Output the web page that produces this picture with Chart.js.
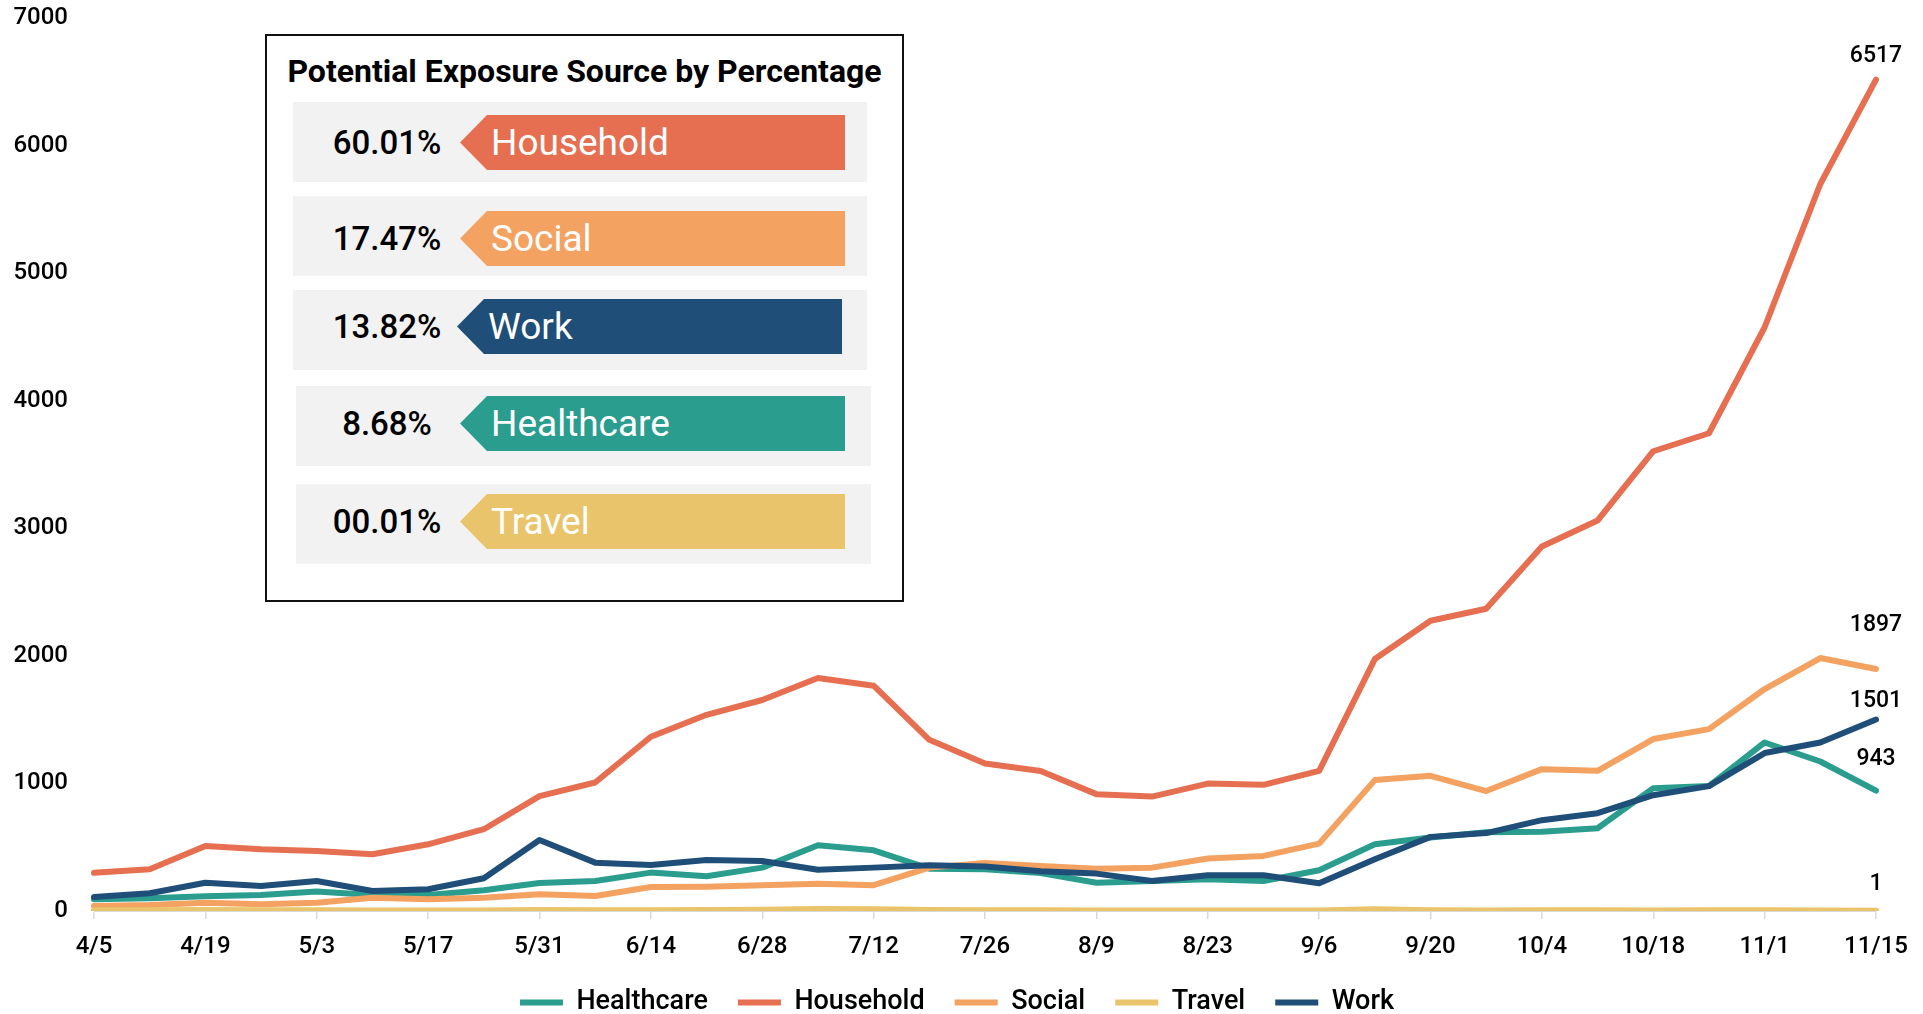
<!DOCTYPE html>
<html>
<head>
<meta charset="utf-8">
<script src="https://cdn.jsdelivr.net/npm/chart.js@4.4.1/dist/chart.umd.min.js"></script>
<style>
  html, body { margin: 0; padding: 0; background: #fff; overflow: hidden; }
  #wrap { position: relative; width: 1923px; height: 1014px; }
  #c { position: absolute; left: 0; top: 0; }
  #inset { position: absolute; left: 265px; top: 34px; width: 635px; height: 564px;
           border: 2px solid #111; background: #fff; font-family: Roboto, sans-serif; }
  #inset .title { position: absolute; left: 0; width: 100%; text-align: center;
                  font-weight: 700; color: #000; white-space: nowrap; }
  #inset .row { position: absolute; background: #f2f2f2; }
  #inset .pct { position: absolute; color: #000; font-weight: 500; text-align: center; white-space: nowrap; }
  #inset .tag { position: absolute; color: #fff; font-weight: 400; white-space: nowrap; box-sizing: border-box; }
</style>
</head>
<body>
<div id="wrap">
  <canvas id="c" width="1923" height="1014"></canvas>
  <div id="inset"></div>
</div>
<script>
// ---------- data ----------
const weeks = ['4/5','4/12','4/19','4/26','5/3','5/10','5/17','5/24','5/31','6/7','6/14','6/21','6/28','7/5','7/12','7/19','7/26','8/2','8/9','8/16','8/23','8/30','9/6','9/13','9/20','9/27','10/4','10/11','10/18','10/25','11/1','11/8','11/15'];

const healthcare = [92,100,115,126,152,126,126,162,220,235,301,272,340,515,476,332,327,297,222,235,249,235,319,523,576,618,622,649,963,979,1321,1172,943];
const household  = [300,327,510,484,471,445,523,641,900,1007,1366,1538,1654,1826,1766,1342,1156,1097,916,897,999,989,1099,1975,2275,2369,2857,3061,3604,3745,4576,5699,6517];
const social     = [39,47,65,52,65,104,92,104,131,118,188,191,202,214,202,340,377,353,332,340,411,432,528,1026,1060,940,1112,1099,1348,1426,1740,1983,1897];
const travel     = [6,6,8,6,5,4,4,4,8,6,6,8,10,16,14,8,6,5,4,4,4,4,4,14,5,4,5,5,4,5,6,4,1];
const work       = [110,139,222,196,235,157,170,257,557,379,361,400,392,324,340,359,348,311,293,235,280,280,217,406,581,611,712,767,908,979,1238,1321,1501];

const seriesNames = ['Healthcare','Household','Social','Travel','Work'];
const seriesData  = [healthcare, household, social, travel, work];

const yTicks = [0,1000,2000,3000,4000,5000,6000,7000];

// inset panel
const shareNames = ['Household','Social','Work','Healthcare','Travel'];
const sharePct   = ['60.01%','17.47%','13.82%','8.68%','00.01%'];

// ---------- styles ----------
const colors = { Healthcare:'#2a9d8f', Household:'#e76f51', Social:'#f4a261', Travel:'#e9c46a', Work:'#1f4e79' };
const drawOrder = { Healthcare:5, Household:4, Social:3, Travel:2, Work:1 };
const endLabelLift = { Healthcare:31, Household:23, Social:44, Travel:27, Work:18 };
const FONT = 'Roboto';
const legendShift = 19;

// inset layout (absolute page px)
const rowLayout = [
  { top:102, left:293, width:574, tip:460, right:845, tagTop:115 },
  { top:196, left:293, width:574, tip:460, right:845, tagTop:211 },
  { top:290, left:293, width:574, tip:457, right:842, tagTop:299 },
  { top:386, left:296, width:575, tip:460, right:845, tagTop:396 },
  { top:484, left:296, width:575, tip:460, right:845, tagTop:494 }
];

// ---------- inset ----------
(function buildInset(){
  const box = document.getElementById('inset');
  const ox = 267, oy = 36;
  const t = document.createElement('div');
  t.className = 'title';
  t.textContent = 'Potential Exposure Source by Percentage';
  t.style.top = (71 - 20 - oy) + 'px';
  t.style.fontSize = '32px';
  t.style.lineHeight = '40px';
  box.appendChild(t);
  shareNames.forEach((name, i) => {
    const L = rowLayout[i];
    const row = document.createElement('div');
    row.className = 'row';
    row.style.left = (L.left - ox) + 'px';
    row.style.top = (L.top - oy) + 'px';
    row.style.width = L.width + 'px';
    row.style.height = '80px';
    box.appendChild(row);

    const p = document.createElement('div');
    p.className = 'pct';
    p.textContent = sharePct[i];
    p.style.left = (L.left - ox) + 'px';
    p.style.width = (2 * (387 - L.left)) + 'px';
    p.style.top = (L.tagTop - oy) + 'px';
    p.style.height = '55px';
    p.style.lineHeight = '55px';
    p.style.fontSize = '33px';
    box.appendChild(p);

    const tag = document.createElement('div');
    tag.className = 'tag';
    tag.textContent = name;
    tag.style.left = (L.tip - ox) + 'px';
    tag.style.top = (L.tagTop - oy) + 'px';
    tag.style.width = (L.right - L.tip) + 'px';
    tag.style.height = '55px';
    tag.style.lineHeight = '55px';
    tag.style.fontSize = '37px';
    tag.style.paddingLeft = '31px';
    tag.style.background = colors[name];
    tag.style.clipPath = 'polygon(0 50%, 27px 0, 100% 0, 100% 100%, 27px 100%)';
    box.appendChild(tag);
  });
})();

// ---------- chart ----------
const datasets = seriesNames.map((name, i) => ({
  label: name,
  data: seriesData[i],
  borderColor: colors[name],
  backgroundColor: colors[name],
  borderWidth: 6,
  borderCapStyle: 'round',
  borderJoinStyle: 'round',
  pointRadius: 0,
  pointHoverRadius: 0,
  tension: 0,
  fill: false,
  order: drawOrder[name]
}));

const endLabels = {
  id: 'endLabels',
  afterDatasetsDraw(chart) {
    const ctx = chart.ctx;
    ctx.save();
    ctx.font = '500 23px ' + FONT;
    ctx.fillStyle = '#000';
    ctx.textAlign = 'center';
    ctx.textBaseline = 'middle';
    chart.data.datasets.forEach((ds, i) => {
      const meta = chart.getDatasetMeta(i);
      const last = meta.data[meta.data.length - 1];
      const v = ds.data[ds.data.length - 1];
      ctx.fillText(String(v), last.x, last.y - endLabelLift[ds.label]);
    });
    ctx.restore();
  }
};

const legendNudge = {
  id: 'legendNudge',
  afterLayout(chart) {
    if (chart.legend) { chart.legend.left += legendShift; chart.legend.right += legendShift; }
  }
};

new Chart(document.getElementById('c'), {
  type: 'line',
  data: { labels: weeks, datasets },
  plugins: [endLabels, legendNudge],
  options: {
    responsive: false,
    animation: false,
    layout: { autoPadding: false, padding: { top: 18, right: 47, left: 0, bottom: -12 } },
    plugins: {
      legend: {
        position: 'bottom',
        labels: {
          usePointStyle: true,
          pointStyle: 'line',
          pointStyleWidth: 43,
          padding: 30,
          color: '#000',
          font: { family: FONT, size: 27, weight: '500' },
          sort: (a, b) => a.datasetIndex - b.datasetIndex
        }
      },
      tooltip: { enabled: false }
    },
    scales: {
      x: {
        grid: { display: true, drawOnChartArea: false, drawTicks: true, tickLength: 8, color: '#d9d9d9', lineWidth: 1.5 },
        border: { display: true, color: '#d9d9d9' },
        ticks: { autoSkip: false, maxRotation: 0, padding: 14, color: '#000', font: { family: FONT, size: 24, weight: '500' } },
        afterBuildTicks: s => { s.ticks = s.ticks.filter((t, i) => i % 2 === 0); },
        afterFit: s => { s.height = 48; }
      },
      y: {
        min: 0, max: 7000,
        afterBuildTicks: s => { s.ticks = yTicks.map(v => ({ value: v })); },
        ticks: { padding: 2, color: '#000', font: { family: FONT, size: 24, weight: '500' }, callback: v => String(v) },
        grid: { display: false, drawTicks: true, tickLength: 24 },
        border: { display: false },
        afterFit: s => { s.width = 94; }
      }
    }
  }
});
</script>
</body>
</html>
